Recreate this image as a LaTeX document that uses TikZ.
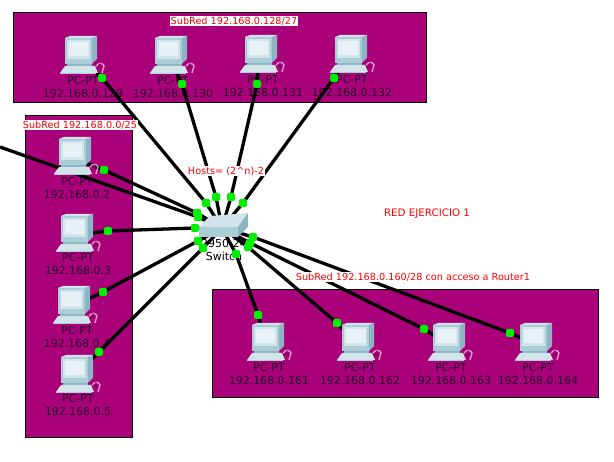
\documentclass[tikz,border=0pt]{standalone}
\usepackage{fontspec}
\setmainfont{DejaVu Sans}
\usepackage{tikz}
\usetikzlibrary{backgrounds}
\definecolor{subnetfill}{RGB}{170,0,122}
\definecolor{pctext}{RGB}{38,0,44}
\definecolor{portgreen}{RGB}{0,240,0}
\definecolor{iconbody}{RGB}{170,205,216}
\definecolor{iconside}{RGB}{140,180,194}
\definecolor{iconlight}{RGB}{208,228,234}
\definecolor{iconscreen}{RGB}{232,241,245}
\tikzset{
  pics/pcicon/.style={code={
    \coordinate (-c) at (14,20);
    \fill[iconside] (27,1) -- (32,-1) -- (32,22) -- (27,27) -- cycle;
    \fill[iconlight] (0,1) -- (5,-1) -- (32,-1) -- (27,1) -- cycle;
    \fill[iconbody] (0,1) rectangle (27,27);
    \fill[iconlight] (2,3) rectangle (25,22);
    \fill[iconscreen] (4,5) rectangle (23,19);
    \fill[iconside] (2,27) rectangle (27,29);
    \fill[iconlight] (-5,36) -- (0,29) -- (30,29) -- (33,36) -- cycle;
    \fill[iconbody] (-5,36) rectangle (31,37);
    \draw[white!60!subnetfill, line width=1.4pt] (31,29) .. controls (34,25) and (38,26) .. (39,29) -- (37,36);
    \fill[subnetfill!85!black] (32,32) -- (35,26) -- (37,32) -- cycle;
  }},
  pics/switchicon/.style={code={
    \coordinate (-c) at (0,0);
    \fill[iconlight] (-12,-12) -- (26,-15) -- (16,-1) -- (-23,-1) -- cycle;
    \fill[iconbody] (-23,-1) rectangle (16,9);
    \fill[iconside] (26,-15) -- (26,-1) -- (16,9) -- (16,-1) -- cycle;
  }},
}
\begin{document}
\begin{tikzpicture}[
  x=1pt, y=-1pt,
  subnet/.style={rectangle, draw=black, line width=1pt, fill=subnetfill, inner sep=0pt, anchor=north west},
  pclabel/.style={text=pctext, align=center, font=\fontsize{11}{13}\selectfont, inner sep=0pt},
  swlabel/.style={text=black, align=center, font=\fontsize{11}{13}\selectfont, inner sep=0pt},
  redlabel/.style={text=red, fill=white, font=\fontsize{9.7}{11}\selectfont, inner sep=1pt},
  port/.style={rectangle, fill=portgreen, minimum size=8pt, inner sep=0pt, rounded corners=2pt},
  link/.style={black, line width=3.3pt},
]
  \useasboundingbox (0,0) rectangle (614,462);

  % subnet boxes and computer names
  \begin{scope}[on background layer]
    \node[subnet, minimum width=413pt, minimum height=90pt] (nettop) at (13,12) {};
    \node[subnet, minimum width=107pt, minimum height=322pt] (netleft) at (25,115) {};
    \node[subnet, minimum width=386pt, minimum height=108pt] (netright) at (212,289) {};

    \node[pclabel] (l129) at (83,87) {PC-PT\\192.168.0.129};
    \node[pclabel] (l130) at (173,87) {PC-PT\\192.168.0.130};
    \node[pclabel] (l131) at (263,86) {PC-PT\\192.168.0.131};
    \node[pclabel] (l132) at (352,86) {PC-PT\\192.168.0.132};
    \node[pclabel] (l2) at (77,188) {PC-PT\\192.168.0.2};
    \node[pclabel] (l3) at (78,264) {PC-PT\\192.168.0.3};
    \node[pclabel] (l4) at (77,337) {PC-PT\\192.168.0.4};
    \node[pclabel] (l5) at (78,405) {PC-PT\\192.168.0.5};
    \node[pclabel] (l161) at (269,374) {PC-PT\\192.168.0.161};
    \node[pclabel] (l162) at (360,374) {PC-PT\\192.168.0.162};
    \node[pclabel] (l163) at (451,374) {PC-PT\\192.168.0.163};
    \node[pclabel] (l164) at (538,374) {PC-PT\\192.168.0.164};
  \end{scope}

  % computers and switch
  \pic (pc129) at (65,37) {pcicon};
  \pic (pc130) at (155,37) {pcicon};
  \pic (pc131) at (245,36) {pcicon};
  \pic (pc132) at (335,36) {pcicon};
  \pic (pc2) at (59,138) {pcicon};
  \pic (pc3) at (61,215) {pcicon};
  \pic (pc4) at (58,287) {pcicon};
  \pic (pc5) at (61,356) {pcicon};
  \pic (pc161) at (252,324) {pcicon};
  \pic (pc162) at (342,324) {pcicon};
  \pic (pc163) at (433,324) {pcicon};
  \pic (pc164) at (520,324) {pcicon};
  \pic (sw) at (222,228) {switchicon};
  \node[swlabel] (swname) at (224,250) {2950-24\\Switch};
  \coordinate (router) at (0,147);

  % ports, computer end
  \node[port] (a129) at (102,78) {};
  \node[port] (a130) at (182,84) {};
  \node[port] (a131) at (257,84) {};
  \node[port] (a132) at (334,78) {};
  \node[port] (a2) at (104,170) {};
  \node[port] (a3) at (108,231) {};
  \node[port] (a4) at (103,292) {};
  \node[port] (a5) at (99,352) {};
  \node[port] (a161) at (258,315) {};
  \node[port] (a162) at (337,323) {};
  \node[port] (a163) at (424,329) {};
  \node[port] (a164) at (510,333) {};

  % ports, switch end
  \node[port] (b129) at (206,203) {};
  \node[port] (b130) at (216,197) {};
  \node[port] (b131) at (231,197) {};
  \node[port] (b132) at (243,203) {};
  \node[port] (b2) at (197,213) {};
  \node[port] (brouter) at (198,217) {};
  \node[port] (b3) at (195,228) {};
  \node[port] (b4) at (198,241) {};
  \node[port] (b5) at (203,248) {};
  \node[port] (b161) at (236,254) {};
  \node[port] (b162) at (248,247) {};
  \node[port] (b163) at (250,243) {};
  \node[port] (b164) at (253,237) {};

  \begin{scope}[on background layer]
    \draw[link] (router) -- (brouter.center) -- (sw-c);
    \draw[link] (pc129-c) -- (a129.center) -- (b129.center) -- (sw-c);
    \draw[link] (pc130-c) -- (a130.center) -- (b130.center) -- (sw-c);
    \draw[link] (pc131-c) -- (a131.center) -- (b131.center) -- (sw-c);
    \draw[link] (pc132-c) -- (a132.center) -- (b132.center) -- (sw-c);
    \draw[link] (pc2-c) -- (a2.center) -- (b2.center) -- (sw-c);
    \draw[link] (pc3-c) -- (a3.center) -- (b3.center) -- (sw-c);
    \draw[link] (pc4-c) -- (a4.center) -- (b4.center) -- (sw-c);
    \draw[link] (pc5-c) -- (a5.center) -- (b5.center) -- (sw-c);
    \draw[link] (pc161-c) -- (a161.center) -- (b161.center) -- (sw-c);
    \draw[link] (pc162-c) -- (a162.center) -- (b162.center) -- (sw-c);
    \draw[link] (pc163-c) -- (a163.center) -- (b163.center) -- (sw-c);
    \draw[link] (pc164-c) -- (a164.center) -- (b164.center) -- (sw-c);
  \end{scope}

  \node[redlabel] (toptitle) at (234,21) {SubRed 192.168.0.128/27};
  \node[redlabel] (lefttitle) at (80,125) {SubRed 192.168.0.0/25};
  \node[redlabel] (hosts) at (226,171) {Hosts= (2\^{}n)-2};
  \node[redlabel, font=\fontsize{10.3}{11}\selectfont] (exercise) at (427,214) {RED EJERCICIO 1};
  \node[redlabel] (righttitle) at (413,277) {SubRed 192.168.0.160/28 con acceso a Router1};
\end{tikzpicture}
\end{document}
